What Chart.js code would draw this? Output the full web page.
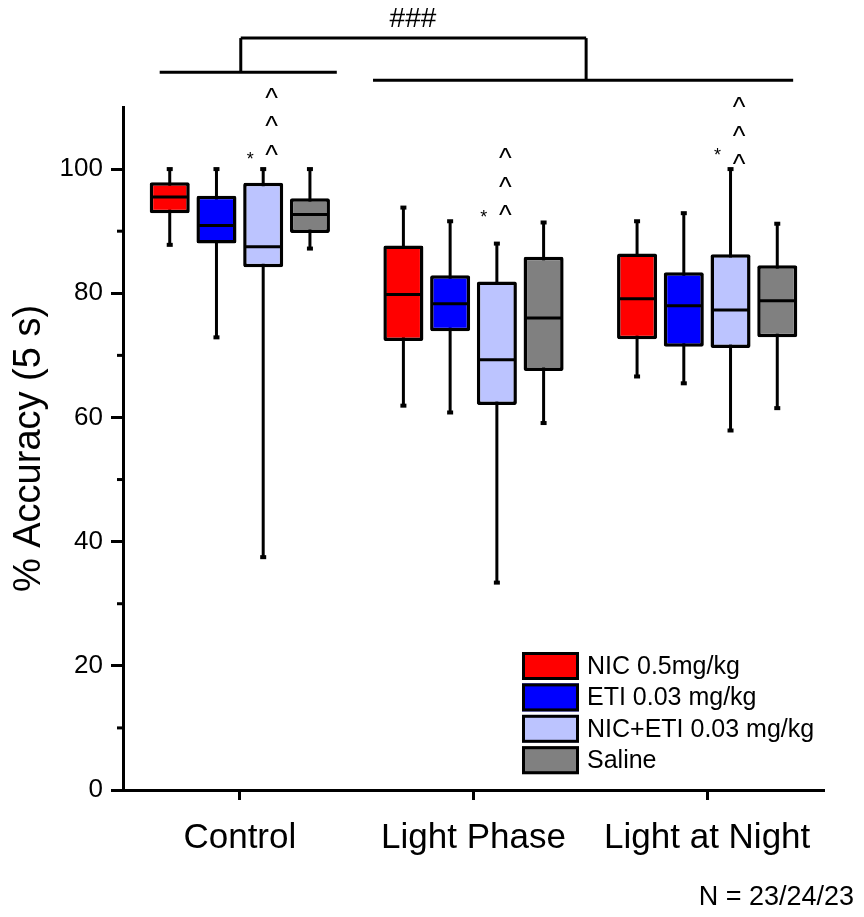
<!DOCTYPE html>
<html>
<head>
<meta charset="utf-8">
<script src="https://cdn.jsdelivr.net/npm/chart.js@4.4.1/dist/chart.umd.min.js"></script>
<style>
html, body { margin: 0; padding: 0; background: #fff; }
</style>
</head>
<body>
<canvas id="myChart" width="864" height="917"></canvas>
<script>
var groups = ['Control', 'Light Phase', 'Light at Night'];
var seriesNames = ['NIC 0.5mg/kg', 'ETI 0.03 mg/kg', 'NIC+ETI 0.03 mg/kg', 'Saline'];
var seriesColors = ['#ff0000', '#0000ff', '#bcc4ff', '#808080'];

// box plot values per series (Control, Light Phase, Light at Night)
var nicMin = [87.8, 61.9, 66.6];
var nicQ1 = [92.9, 72.3, 72.6];
var nicMed = [95.5, 79.8, 79.1];
var nicQ3 = [97.9, 87.7, 86.4];
var nicMax = [100, 93.8, 91.6];

var etiMin = [72.9, 60.8, 65.5];
var etiQ1 = [88.0, 73.9, 71.4];
var etiMed = [90.9, 78.3, 78.0];
var etiQ3 = [95.7, 82.9, 83.4];
var etiMax = [100, 91.6, 92.9];

var comboMin = [37.5, 33.4, 57.9];
var comboQ1 = [84.2, 62.0, 71.2];
var comboMed = [87.5, 69.3, 77.3];
var comboQ3 = [97.8, 81.9, 86.3];
var comboMax = [100, 88.0, 100];

var salMin = [87.2, 59.1, 61.5];
var salQ1 = [89.7, 67.5, 72.9];
var salMed = [92.7, 76.0, 78.8];
var salQ3 = [95.3, 85.9, 84.5];
var salMax = [100, 91.4, 91.2];

var yTicks = [0, 20, 40, 60, 80, 100];
var yMinorTicks = [10, 30, 50, 70, 90];
var nText = 'N = 23/24/23';

var stats = [
    {min: nicMin, q1: nicQ1, med: nicMed, q3: nicQ3, max: nicMax},
    {min: etiMin, q1: etiQ1, med: etiMed, q3: etiQ3, max: etiMax},
    {min: comboMin, q1: comboQ1, med: comboMed, q3: comboQ3, max: comboMax},
    {min: salMin, q1: salQ1, med: salMed, q3: salQ3, max: salMax}
];

// significance marks (value units), drawn above the NIC+ETI boxes
var caretBase = [103.1, 93.4, 101.6];
var caretStep = 4.6;
var starY = [102.3, 93.0, 103.0];

var FONT = 'Liberation Sans, Arial, sans-serif';
Chart.defaults.font.family = FONT;
Chart.defaults.color = '#000';

var boxExtras = {
    id: 'boxExtras',
    beforeDatasetsDraw: function(chart) {
        var ctx = chart.ctx, y = chart.scales.y;
        ctx.save();
        ctx.strokeStyle = '#000';
        ctx.fillStyle = '#000';
        ctx.lineWidth = 3;
        stats.forEach(function(s, i) {
            chart.getDatasetMeta(i).data.forEach(function(bar, j) {
                var top = y.getPixelForValue(s.max[j]);
                var bot = y.getPixelForValue(s.min[j]);
                ctx.beginPath();
                ctx.moveTo(bar.x, top);
                ctx.lineTo(bar.x, bot);
                ctx.stroke();
                ctx.fillRect(bar.x - 3, top - 2, 6, 4);
                ctx.fillRect(bar.x - 3, bot - 2, 6, 4);
            });
        });
        ctx.restore();
    },
    afterDatasetsDraw: function(chart) {
        var ctx = chart.ctx, x = chart.scales.x, y = chart.scales.y;
        var area = chart.chartArea;
        ctx.save();
        ctx.strokeStyle = '#000';
        ctx.fillStyle = '#000';
        ctx.lineWidth = 3;

        // medians
        stats.forEach(function(s, i) {
            chart.getDatasetMeta(i).data.forEach(function(bar, j) {
                var py = y.getPixelForValue(s.med[j]);
                ctx.beginPath();
                ctx.moveTo(bar.x - bar.width / 2 + 1, py);
                ctx.lineTo(bar.x + bar.width / 2 - 1, py);
                ctx.stroke();
            });
        });

        // minor ticks on y axis
        yMinorTicks.forEach(function(v) {
            var py = y.getPixelForValue(v);
            ctx.beginPath();
            ctx.moveTo(area.left - 6, py);
            ctx.lineTo(area.left, py);
            ctx.stroke();
        });

        // ^ and * marks
        var combo = chart.getDatasetMeta(2).data;
        ctx.textAlign = 'center';
        ctx.textBaseline = 'alphabetic';
        combo.forEach(function(bar, j) {
            ctx.font = '27px ' + FONT;
            for (var k = 0; k < 3; k++) {
                var py = y.getPixelForValue(caretBase[j] + k * caretStep);
                ctx.fillText('^', bar.x + 8.5, py + 0.52 * 27);
            }
            ctx.font = '18px ' + FONT;
            ctx.fillText('*', bar.x - 13, y.getPixelForValue(starY[j]) + 0.57 * 18);
        });

        // group comparison brackets
        function seg(c0, v0, c1, v1) {
            ctx.beginPath();
            ctx.moveTo(x.getPixelForValue(c0), y.getPixelForValue(v0));
            ctx.lineTo(x.getPixelForValue(c1), y.getPixelForValue(v1));
            ctx.stroke();
        }
        seg(-0.343, 115.6, 0.415, 115.6);
        seg(0.57, 114.3, 2.368, 114.3);
        seg(0.004, 121.1, 1.482, 121.1);
        seg(0.004, 121.1, 0.004, 115.6);
        seg(1.482, 121.1, 1.482, 114.3);
        ctx.font = '28px ' + FONT;
        ctx.textBaseline = 'middle';
        ctx.fillText('###', x.getPixelForValue(0.741), y.getPixelForValue(124.1));

        // legend
        var lx = area.right - 302, ly = 652, step = 31.4;
        ctx.font = '25px ' + FONT;
        ctx.textAlign = 'left';
        seriesNames.forEach(function(name, i) {
            var top = ly + i * step;
            ctx.fillStyle = seriesColors[i];
            ctx.fillRect(lx, top, 57, 28);
            ctx.strokeRect(lx + 1.5, top + 1.5, 54, 25);
            ctx.fillStyle = '#000';
            ctx.fillText(name, lx + 65, top + 15);
        });

        // sample size note
        ctx.font = '27px ' + FONT;
        ctx.textAlign = 'right';
        ctx.textBaseline = 'alphabetic';
        ctx.fillText(nText, 854, 905);
        ctx.restore();
    }
};

var datasets = stats.map(function(s, i) {
    return {
        label: seriesNames[i],
        data: groups.map(function(g, j) { return [s.q1[j], s.q3[j]]; }),
        backgroundColor: seriesColors[i],
        borderColor: '#000',
        borderWidth: 3.5,
        borderRadius: 2,
        borderSkipped: false,
        categoryPercentage: 0.8,
        barPercentage: 0.857
    };
});

var ctx = document.getElementById('myChart').getContext('2d');
var chart = new Chart(ctx, {
    type: 'bar',
    data: { labels: groups, datasets: datasets },
    plugins: [boxExtras],
    options: {
        responsive: false,
        animation: false,
        layout: { padding: { left: 0, right: 40, top: 107, bottom: 0 } },
        plugins: {
            legend: { display: false },
            tooltip: { enabled: false }
        },
        scales: {
            x: {
                grid: { offset: false, drawOnChartArea: false, tickLength: 10, tickWidth: 3, tickColor: '#000' },
                border: { color: '#000', width: 3 },
                ticks: { font: { size: 35 }, padding: 17, maxRotation: 0 },
                afterFit: function(scale) { scale.height = 127; }
            },
            y: {
                min: 0,
                max: 110,
                grid: { drawOnChartArea: false, tickLength: 12, tickWidth: 3, tickColor: '#000' },
                border: { color: '#000', width: 3 },
                ticks: { font: { size: 26 }, padding: 8 },
                afterBuildTicks: function(scale) {
                    scale.ticks = yTicks.map(function(v) { return {value: v}; });
                },
                afterFit: function(scale) { scale.width = 123; },
                title: {
                    display: true,
                    text: '% Accuracy (5 s)',
                    font: { size: 38 },
                    padding: { top: 7, bottom: 0 }
                }
            }
        }
    }
});
</script>
</body>
</html>
